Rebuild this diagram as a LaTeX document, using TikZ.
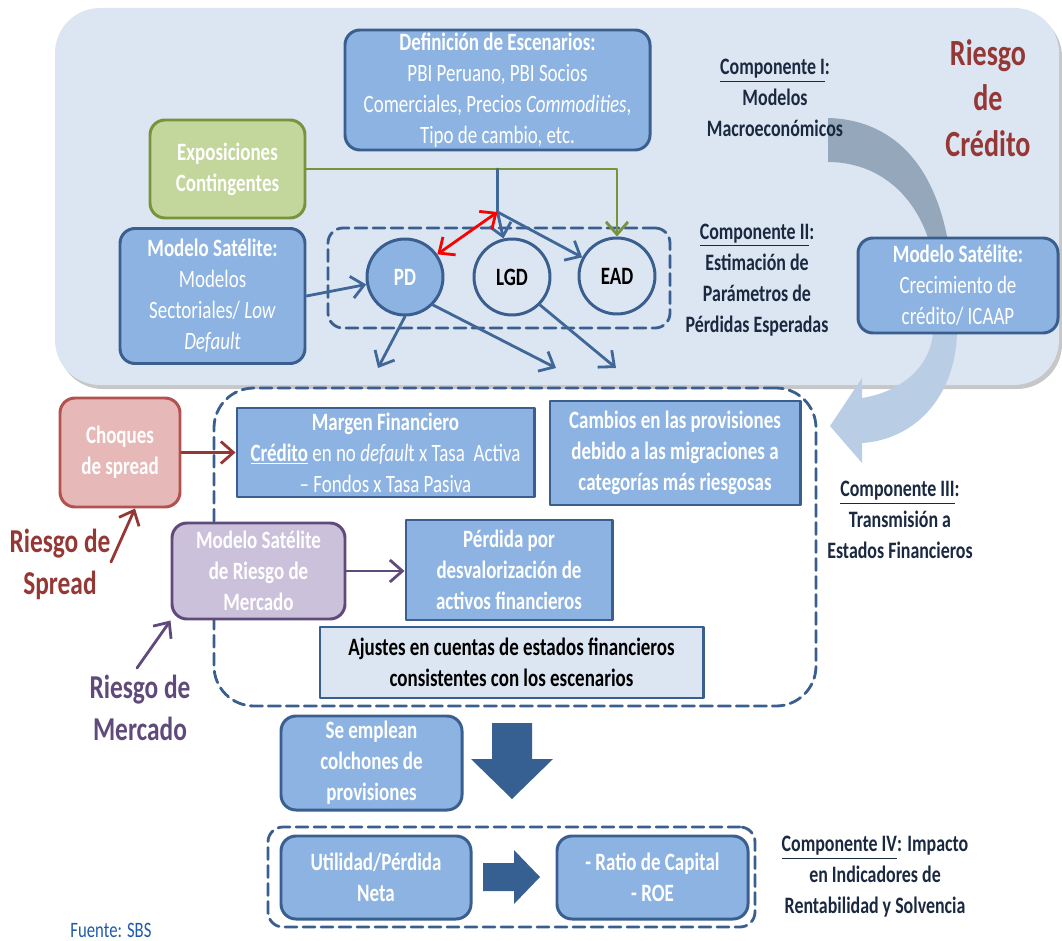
\documentclass[tikz,border=0pt]{standalone}
\usepackage{fontspec}
\setmainfont{Carlito}[FakeStretch=0.76]
\usetikzlibrary{arrows.meta,positioning}

\definecolor{panelbg}{HTML}{DCE6F2}
\definecolor{boxfill}{HTML}{8DB3E2}
\definecolor{boxline}{HTML}{3A5F8F}
\definecolor{arrowblue}{HTML}{3F6797}
\definecolor{greenfill}{HTML}{C3D69B}
\definecolor{greenline}{HTML}{77933C}
\definecolor{redfill}{HTML}{E6B9B8}
\definecolor{redline}{HTML}{B3514E}
\definecolor{riskred}{HTML}{953735}
\definecolor{purplefill}{HTML}{CCC1DA}
\definecolor{purpleline}{HTML}{604A7B}
\definecolor{comptext}{HTML}{1A2940}
\definecolor{bigarrow}{HTML}{376092}
\definecolor{arcgray}{HTML}{95A7BA}
\definecolor{arclight}{HTML}{B9CDE5}
\definecolor{fuente}{HTML}{1F5BA8}

\newcommand\bodyfs{\fontsize{14.2}{17.6}\selectfont}
\newcommand\compfs{\fontsize{13.4}{17.6}\selectfont}
\newcommand\riskfs{\fontsize{19}{24}\selectfont}

\tikzset{
  bluebox/.style={draw=boxline, fill=boxfill, line width=1.7pt, text=white, align=center, font=\bodyfs, inner sep=0pt},
  rbox/.style={bluebox, rounded corners=3mm},
  param/.style={circle, draw=boxline, line width=1.7pt, fill=panelbg, minimum size=15.2mm, inner sep=0pt, font=\bodyfs\bfseries},
  dashgroup/.style={draw=boxline, line width=1.6pt, dash pattern=on 2.4mm off 1.2mm, rounded corners=3mm, inner sep=0pt},
  comp/.style={text=comptext, align=center, font=\compfs\bfseries},
  link/.style={draw=arrowblue, line width=1.6pt, ->},
}

\begin{document}
\begin{tikzpicture}[x=0.2mm, y=-0.2mm, line cap=round, line join=round, >={Straight Barb[length=2.5mm,width=4.4mm]}]
  \useasboundingbox (0,0) rectangle (1062,941);
  % panel riesgo de credito
  \fill[black!22, rounded corners=9mm] (58,12) rectangle (1062,389);
  \fill[panelbg, rounded corners=9mm] (55,8) rectangle (1059,385);
  % curved arrow
  \fill[arcgray] (828,118) .. controls (900,120) and (947,175) .. (953,285) -- (937,285)
    .. controls (932,205) and (885,162) .. (828,162) -- cycle;
  \fill[arclight] (953,285) -- (957,333) .. controls (955,400) and (912,440) .. (862,443)
    -- (862,463) -- (830,426) -- (862,378) -- (862,398)
    .. controls (900,392) and (930,368) .. (933,333) -- (937,285) -- cycle;

  \node[rbox, minimum width=61mm, minimum height=24mm] (escen) at (497.5,90)
    {\textbf{Definición de Escenarios:}\\PBI Peruano, PBI Socios\\Comerciales, Precios \textit{Commodities},\\Tipo de cambio, etc.};
  \node[rbox, draw=greenline, fill=greenfill, font=\bodyfs\bfseries, minimum width=31mm, minimum height=19.6mm] (expo) at (227.5,169)
    {Exposiciones\\Contingentes};
  \node[rbox, minimum width=37mm, minimum height=27mm] (satl) at (212.5,296)
    {\textbf{Modelo Satélite:}\\Modelos\\Sectoriales/ \textit{Low}\\\textit{Default}};
  \node[dashgroup, minimum width=68.4mm, minimum height=20mm] (paramgrp) at (499,278) {};
  \node[param, fill=boxfill, text=white] (pd) at (405,277) {PD};
  \node[param] (lgd) at (512,277) {LGD};
  \node[param] (ead) at (617,276) {EAD};
  \node[comp] (comp1) at (775,98) {\underline{Componente I}:\\Modelos\\Macroeconómicos};
  \node[comp] (comp2) at (757,280) {\underline{Componente II}:\\Estimación de\\Parámetros de\\Pérdidas Esperadas};
  \node[text=riskred, align=center, font=\fontsize{21}{26}\selectfont\bfseries] (rcred) at (988,98) {Riesgo\\de\\Crédito};
  \node[rbox, minimum width=40mm, minimum height=19mm] (satr) at (958,285.5)
    {\textbf{Modelo Satélite:}\\Crecimiento de\\crédito/ ICAAP};

  % arrows to PD, LGD, EAD
  \coordinate (split) at (497.5,212);
  \draw[link] (satl.east) -- (pd);
  \draw[link, draw=greenline] (expo.east) -| (ead.north);
  \draw[draw=arrowblue, line width=1.6pt] (expo.east -| split) -- (split);
  \draw[link] (split) -- (lgd);
  \draw[link] (split) -- (ead);
  \draw[link, draw=red, <->] (split) -- (pd);
  \coordinate (pdA) at (378,368);
  \coordinate (pdB) at (556,368);
  \coordinate (lgdA) at (616,368);
  \draw[link] (pd.south) -- (pdA);
  \draw[link] (pd.-45) -- (pdB);
  \draw[link] (lgd.-45) -- (lgdA);

  % componente III
  \node[dashgroup, rounded corners=8mm, minimum width=120.4mm, minimum height=63.6mm] (transm) at (515,547) {};
  \node[bluebox, minimum width=59.4mm, minimum height=17.8mm] (margen) at (385.5,452.5)
    {\textbf{Margen Financiero}\\\underline{\textbf{Crédito}} en no \textit{defaul}t x Tasa~ Activa\\– Fondos x Tasa Pasiva};
  \node[bluebox, font=\bodyfs\bfseries, minimum width=50mm, minimum height=20.8mm] (cambios) at (675,453)
    {Cambios en las provisiones\\debido a las migraciones a\\categorías más riesgosas};
  \node[rbox, draw=redline, fill=redfill, font=\bodyfs\bfseries, minimum width=24mm, minimum height=21.8mm] (choq) at (120,452.5)
    {Choques\\de spread};
  \node[text=riskred, align=center, font=\riskfs\bfseries] (rspread) at (60,564) {Riesgo de\\Spread};
  \node[rbox, draw=purpleline, fill=purplefill, font=\bodyfs\bfseries, minimum width=34.6mm, minimum height=19.2mm] (msat) at (258.5,571)
    {Modelo Satélite\\de Riesgo de\\Mercado};
  \node[text=purpleline, align=center, font=\riskfs\bfseries] (rmerc) at (140,708) {Riesgo de\\Mercado};
  \node[bluebox, font=\bodyfs\bfseries, minimum width=41.2mm, minimum height=20mm] (perdida) at (509,570)
    {Pérdida por\\desvalorización de\\activos financieros};
  \node[bluebox, fill=panelbg, text=black, font=\bodyfs\bfseries, minimum width=76.6mm, minimum height=14.2mm] (ajustes) at (511.5,662.5)
    {Ajustes en cuentas de estados financieros\\consistentes con los escenarios};
  \node[comp] (comp3) at (900,520) {\underline{Componente III}:\\Transmisión a\\Estados Financieros};

  \coordinate (spreadtail) at (111,562);
  \coordinate (merctail) at (137,668);
  \draw[link, draw=riskred] (choq.east) -- (margen.west);
  \draw[link, draw=riskred] (spreadtail) -- (choq.-75);
  \draw[link, draw=purpleline] (msat.east) -- (msat.east -| perdida.west);
  \draw[link, draw=purpleline] (merctail) -- (msat.south west);

  % componente IV
  \node[rbox, font=\bodyfs\bfseries, minimum width=36.2mm, minimum height=18.8mm] (colchon) at (371.5,763)
    {Se emplean\\colchones de\\provisiones};
  \fill[bigarrow] (492,723) -- (532,723) -- (532,759) -- (553,759) -- (512,799) -- (471,759) -- (492,759) -- cycle;
  \node[dashgroup, minimum width=97.4mm, minimum height=20mm] (impacto) at (511.5,877) {};
  \node[rbox, font=\bodyfs\bfseries, minimum width=38mm, minimum height=16.6mm] (util) at (376,877.5)
    {Utilidad/Pérdida\\Neta};
  \node[rbox, font=\bodyfs\bfseries, minimum width=38.2mm, minimum height=16.6mm] (ratio) at (652.5,877.5)
    {- Ratio de Capital\\- ROE};
  \fill[bigarrow] (483,863) -- (514,863) -- (514,850) -- (540,877) -- (514,904) -- (514,891) -- (483,891) -- cycle;
  \node[comp] (comp4) at (875,877) {\underline{Componente IV}: Impacto\\en Indicadores de\\Rentabilidad y Solvencia};

  \node[text=fuente, font=\fontsize{12.5}{15}\selectfont] (fuente) at (111,930) {Fuente: SBS};
\end{tikzpicture}
\end{document}
